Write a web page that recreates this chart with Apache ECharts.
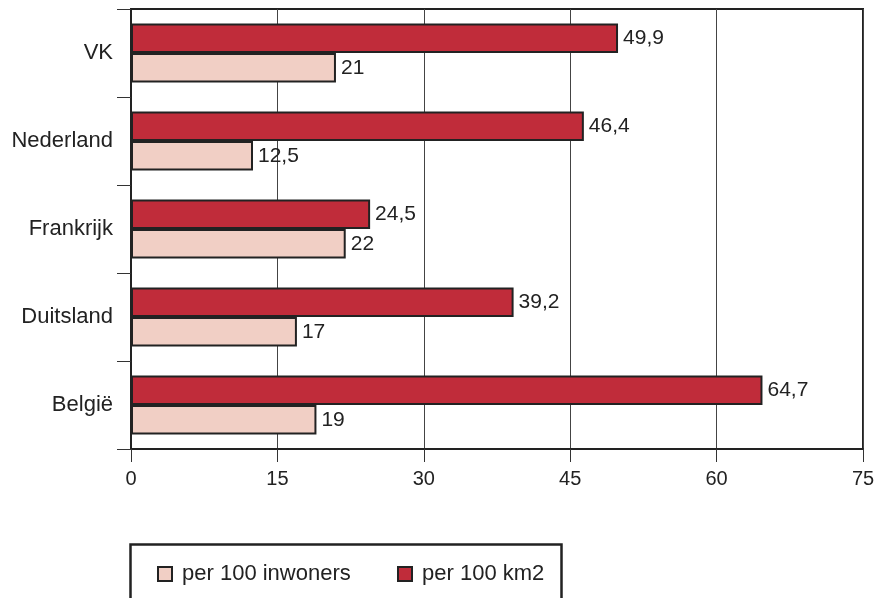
<!DOCTYPE html>
<html>
<head>
<meta charset="utf-8">
<script src="https://cdn.jsdelivr.net/npm/echarts@6/dist/echarts.min.js"></script>
<style>
html,body{margin:0;padding:0;background:#fff;}
#main{width:890px;height:598px;}
</style>
</head>
<body>
<div id="main"></div>
<script>
// Categories listed bottom-to-top (ECharts category y axis starts at the bottom)
const categories = ['België', 'Duitsland', 'Frankrijk', 'Nederland', 'VK'];
const perInwoners = [19, 17, 22, 12.5, 21];
const perKm2 = [64.7, 39.2, 24.5, 46.4, 49.9];
const xTicks = [0, 15, 30, 45, 60, 75];
const seriesNames = ['per 100 inwoners', 'per 100 km2'];

const FONT = 'Liberation Sans, Arial, Helvetica, sans-serif';
const TXT = '#222';
const EDGE = '#222';

const chart = echarts.init(document.getElementById('main'), null, {renderer: 'canvas'});

const fmt = p => String(p.value).replace('.', ',');

chart.setOption({
  animation: false,
  backgroundColor: '#fff',
  textStyle: {fontFamily: FONT},
  grid: {
    left: 131, right: 27, top: 9, bottom: 149,
    show: true, borderColor: EDGE, borderWidth: 2, backgroundColor: 'transparent'
  },
  xAxis: {
    type: 'value',
    min: xTicks[0], max: xTicks[xTicks.length - 1], interval: 15,
    axisLine: {show: true, lineStyle: {color: EDGE, width: 2}},
    axisTick: {show: true, length: 13, lineStyle: {color: '#333', width: 1}},
    axisLabel: {color: TXT, fontSize: 20, fontFamily: FONT, margin: 20},
    splitLine: {show: true, lineStyle: {color: '#444', width: 1}}
  },
  yAxis: {
    type: 'category',
    data: categories,
    axisLine: {show: true, lineStyle: {color: EDGE, width: 2}},
    axisTick: {show: true, length: 14, lineStyle: {color: '#333', width: 1}},
    axisLabel: {color: TXT, fontSize: 22, fontFamily: FONT, margin: 18, padding: [0, 0, 12, 0]},
    splitLine: {show: false}
  },
  legend: [
    {
      data: [seriesNames[0]], left: 152, top: 558, itemWidth: 14, itemHeight: 14,
      icon: 'rect', itemStyle: {borderColor: EDGE, borderWidth: 2},
      textStyle: {color: TXT, fontSize: 22, fontFamily: FONT, padding: [0, 0, 0, 5]}
    },
    {
      data: [seriesNames[1]], left: 392, top: 558, itemWidth: 14, itemHeight: 14,
      icon: 'rect', itemStyle: {borderColor: EDGE, borderWidth: 2},
      textStyle: {color: TXT, fontSize: 22, fontFamily: FONT, padding: [0, 0, 0, 5]}
    }
  ],
  graphic: [{
    type: 'rect', left: 128, top: 542, silent: true,
    shape: {width: 431, height: 100},
    style: {fill: 'none', stroke: EDGE, lineWidth: 2.5}
  }],
  series: [
    {
      name: seriesNames[1], type: 'bar', data: perKm2,
      barGap: '0%', barCategoryGap: '33%',
      itemStyle: {color: '#c02c3a', borderColor: EDGE, borderWidth: 2},
      label: {show: true, position: 'right', distance: 5, color: TXT, fontSize: 21, fontFamily: FONT, formatter: fmt}
    },
    {
      name: seriesNames[0], type: 'bar', data: perInwoners,
      barGap: '0%', barCategoryGap: '33%',
      itemStyle: {color: '#f1cfc5', borderColor: EDGE, borderWidth: 2},
      label: {show: true, position: 'right', distance: 5, color: TXT, fontSize: 21, fontFamily: FONT, formatter: fmt}
    }
  ]
});
</script>
</body>
</html>
